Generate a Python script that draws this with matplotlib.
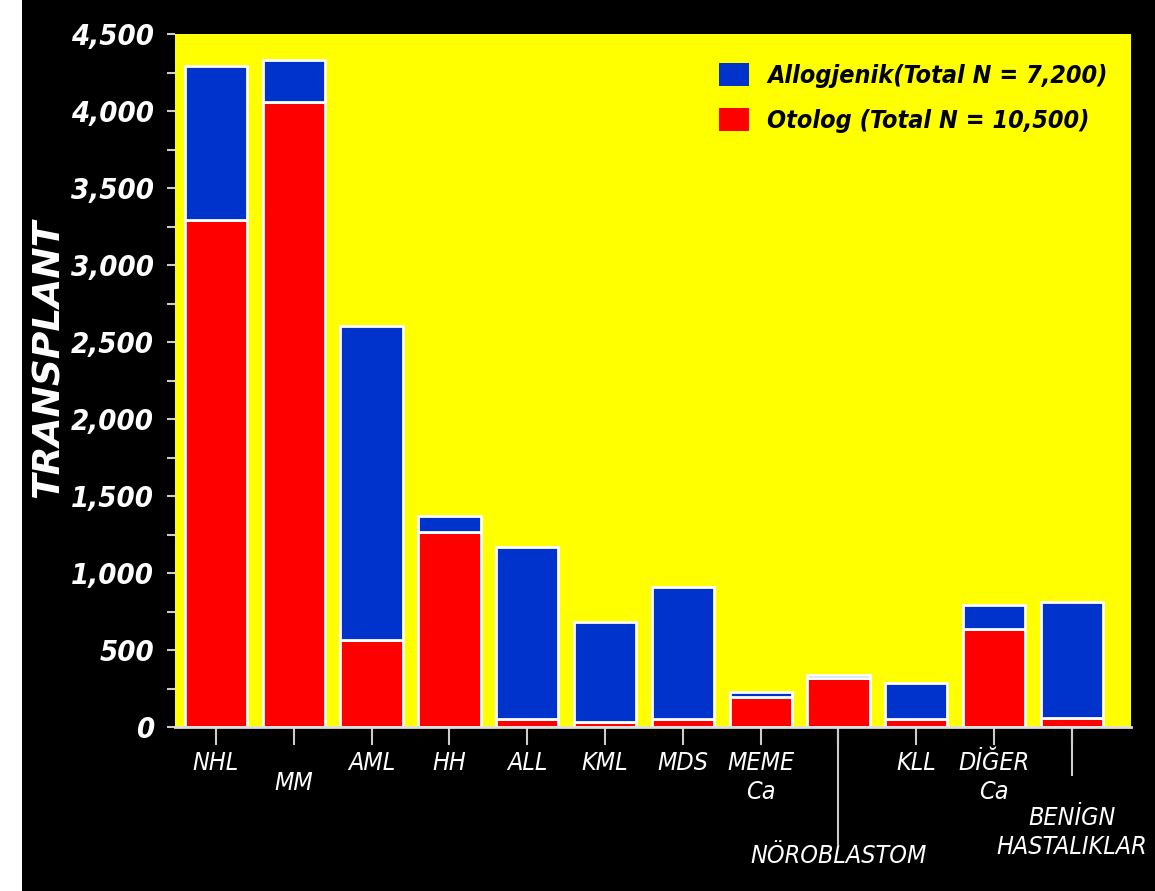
import matplotlib
matplotlib.use("Agg")
import matplotlib.pyplot as plt
from matplotlib import font_manager
from matplotlib.patches import Rectangle, Patch
from matplotlib.ticker import MultipleLocator, FuncFormatter
import numpy as np

categories = ["NHL", "MM", "AML", "HH", "ALL", "KML", "MDS", "MEME\nCa",
              "NÖROBLASTOM", "KLL", "DİĞER\nCa", "BENİGN\nHASTALIKLAR"]
otolog = [3290, 4060, 565, 1265, 55, 30, 55, 195, 315, 50, 635, 60]
allogjenik = [1000, 270, 2040, 105, 1115, 650, 855, 35, 25, 235, 155, 750]
label_allo = "Allogjenik(Total N = 7,200)"
label_oto = "Otolog (Total N = 10,500)"
y_label = "TRANSPLANT"

label_drop = [28, 48, 28, 28, 28, 28, 28, 28, 121, 28, 28, 83]
long_ticks = {8: 118, 11: 48}

fonts = font_manager.fontManager.ttflist
has_cond = any(f.name == "DejaVu Sans" and f.stretch == "condensed" for f in fonts)
has_narrow = any(f.name == "Liberation Sans Narrow" for f in fonts)

if has_narrow:
    NARROW = dict(family=["Liberation Sans Narrow", "DejaVu Sans"], stretch="normal")
    k = 1.05
elif has_cond:
    NARROW = dict(family=["DejaVu Sans"], stretch="condensed")
    k = 1.0
else:
    NARROW = dict(family=["Liberation Sans", "DejaVu Sans"], stretch="normal")
    k = 0.85

BLUE = "#0033cc"
RED = "#ff0000"
YELLOW = "#ffff00"

W, H = 1155, 891
fig = plt.figure(figsize=(W / 100, H / 100), dpi=100, facecolor="black")
fig.patches.append(Rectangle((0, 0), 22 / W, 1, transform=fig.transFigure,
                             facecolor="white", edgecolor="none", zorder=-1))

ax = fig.add_axes([175 / W, 1 - 727 / H, (1131 - 175) / W, (727 - 34) / H])
ax.set_facecolor(YELLOW)

x = np.arange(len(categories))
ax.bar(x, otolog, width=0.8, color=RED, edgecolor="white", linewidth=2, zorder=2)
ax.bar(x, allogjenik, width=0.8, bottom=otolog, color=BLUE,
       edgecolor="white", linewidth=2, zorder=2)

ax.set_xlim(-0.527, len(categories) - 1 + 0.76)
ax.set_ylim(0, 4500)

for s in ["top", "right", "left"]:
    ax.spines[s].set_visible(False)
ax.spines["bottom"].set_color("#dddddd")
ax.spines["bottom"].set_linewidth(2)
ax.spines["bottom"].set_zorder(3)

ax.yaxis.set_major_locator(MultipleLocator(500))
ax.yaxis.set_minor_locator(MultipleLocator(250))
ax.yaxis.set_major_formatter(FuncFormatter(lambda v, p: f"{int(v):,}"))
ax.tick_params(axis="y", which="both", colors="#cccccc", length=6, width=1.5, pad=9)
ax.tick_params(axis="y", labelcolor="white")
plt.setp(ax.get_yticklabels(), fontfamily=NARROW["family"], fontstretch=NARROW["stretch"],
         fontweight="bold", fontstyle="italic", fontsize=21 * k)

ax.set_xticks(x)
ax.set_xticklabels([])
ax.tick_params(axis="x", colors="#cccccc", length=13, width=1.5)

tr = ax.get_xaxis_transform()
for i, cat in enumerate(categories):
    ax.annotate(cat, xy=(i, 0), xycoords=tr, xytext=(0, -label_drop[i] * 0.72 + 3),
                textcoords="offset points", ha="center", va="top", color="white",
                fontfamily=NARROW["family"], fontstretch=NARROW["stretch"],
                fontstyle="italic", fontsize=18 * k,
                linespacing=1.25, annotation_clip=False)
for i, ln in long_ticks.items():
    ax.plot([i, i], [0, -ln / 693], transform=tr, color="#cccccc", lw=1.5,
            clip_on=False, zorder=3)

fig.text(49 / W, 1 - 358 / H, y_label, rotation=90, ha="center", va="center",
         color="white", fontfamily=["DejaVu Sans"], fontstretch="normal",
         fontweight="bold", fontstyle="italic", fontsize=27)

handles = [Patch(facecolor=BLUE, edgecolor="none"), Patch(facecolor=RED, edgecolor="none")]
leg = ax.legend(handles, [label_allo, label_oto], loc="upper left",
                bbox_to_anchor=(706 / W, 1 - 50 / H), bbox_transform=fig.transFigure,
                frameon=False, borderpad=0, handlelength=1.2, handleheight=1.05,
                handletextpad=0.75, labelspacing=0.8,
                prop=dict(family=NARROW["family"], stretch=NARROW["stretch"],
                          weight="bold", style="italic", size=18 * k))
for t in leg.get_texts():
    t.set_color("black")

fig.savefig("out.png", dpi=100, facecolor="black")
